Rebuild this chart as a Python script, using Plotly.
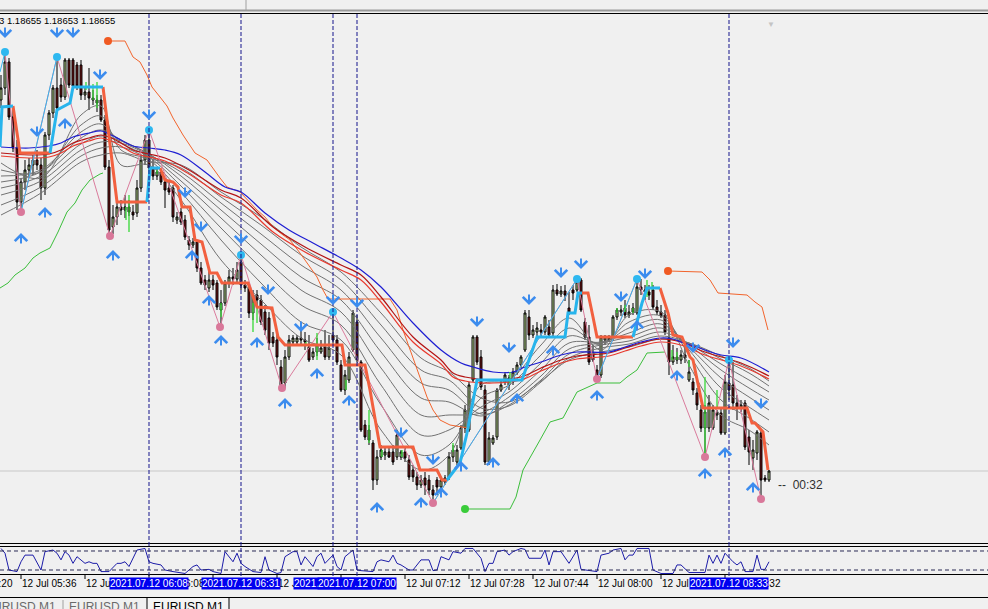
import plotly.graph_objects as go

W, H = 988, 609
BG = "#F0F0F0"

# ---------------- DATA ----------------
# one M1 bar per minute, bar index 0 = 12 Jul 05:31
bars = list(range(193))

open_ = [
1.18900, 1.18912, 1.18938, 1.18883, 1.18852, 1.18798, 1.18818, 1.18830, 1.18835, 1.18840,
1.18835, 1.18812, 1.18865, 1.18887, 1.18912, 1.18915, 1.18903, 1.18940, 1.18940, 1.18935,
1.18935, 1.18905, 1.18908, 1.18902, 1.18900, 1.18900, 1.18880, 1.18833, 1.18773, 1.18783,
1.18793, 1.18790, 1.18793, 1.18788, 1.18787, 1.18812, 1.18840, 1.18860, 1.18832, 1.18824,
1.18828, 1.18818, 1.18812, 1.18812, 1.18780, 1.18788, 1.18780, 1.18760, 1.18755, 1.18758,
1.18732, 1.18720, 1.18712, 1.18720, 1.18717, 1.18690, 1.18697, 1.18717, 1.18723, 1.18721,
1.18738, 1.18715, 1.18712, 1.18687, 1.18705, 1.18700, 1.18688, 1.18682, 1.18663, 1.18660,
1.18633, 1.18617, 1.18643, 1.18658, 1.18658, 1.18662, 1.18660, 1.18653, 1.18643, 1.18648,
1.18648, 1.18653, 1.18643, 1.18665, 1.18660, 1.18635, 1.18610, 1.18620, 1.18650, 1.18678,
1.18638, 1.18575, 1.18570, 1.18557, 1.18520, 1.18543, 1.18545, 1.18548, 1.18548, 1.18543,
1.18543, 1.18548, 1.18540, 1.18530, 1.18523, 1.18515, 1.18522, 1.18520, 1.18510, 1.18520,
1.18513, 1.18518, 1.18523, 1.18543, 1.18538, 1.18552, 1.18572, 1.18570, 1.18620, 1.18663,
1.18643, 1.18610, 1.18538, 1.18557, 1.18563, 1.18610, 1.18618, 1.18615, 1.18618, 1.18627,
1.18635, 1.18650, 1.18683, 1.18665, 1.18668, 1.18670, 1.18668, 1.18673, 1.18667, 1.18710,
1.18706, 1.18709, 1.18692, 1.18710, 1.18710, 1.18720, 1.18678, 1.18663, 1.18647, 1.18630,
1.18625, 1.18660, 1.18660, 1.18663, 1.18683, 1.18688, 1.18692, 1.18685, 1.18692, 1.18687,
1.18713, 1.18710, 1.18708, 1.18710, 1.18693, 1.18688, 1.18685, 1.18662, 1.18638, 1.18643,
1.18640, 1.18645, 1.18620, 1.18618, 1.18607, 1.18590, 1.18572, 1.18572, 1.18572, 1.18585,
1.18587, 1.18567, 1.18617, 1.18615, 1.18597, 1.18592, 1.18597, 1.18563, 1.18542, 1.18547,
1.18567, 1.18522, 1.18520]

high = [
1.18925, 1.18948, 1.18942, 1.18890, 1.18860, 1.18822, 1.18840, 1.18842, 1.18845, 1.18850,
1.18842, 1.18868, 1.18890, 1.18915, 1.18942, 1.18922, 1.18942, 1.18942, 1.18942, 1.18938,
1.18940, 1.18912, 1.18932, 1.18910, 1.18905, 1.18905, 1.18885, 1.18840, 1.18795, 1.18800,
1.18800, 1.18805, 1.18800, 1.18795, 1.18820, 1.18845, 1.18865, 1.18872, 1.18840, 1.18832,
1.18830, 1.18822, 1.18818, 1.18815, 1.18788, 1.18792, 1.18785, 1.18764, 1.18762, 1.18760,
1.18738, 1.18725, 1.18730, 1.18725, 1.18720, 1.18710, 1.18720, 1.18730, 1.18732, 1.18738,
1.18745, 1.18720, 1.18715, 1.18710, 1.18710, 1.18705, 1.18695, 1.18688, 1.18668, 1.18665,
1.18640, 1.18650, 1.18665, 1.18665, 1.18665, 1.18670, 1.18668, 1.18665, 1.18652, 1.18662,
1.18660, 1.18670, 1.18665, 1.18688, 1.18665, 1.18640, 1.18630, 1.18648, 1.18690, 1.18685,
1.18640, 1.18580, 1.18575, 1.18560, 1.18550, 1.18555, 1.18552, 1.18552, 1.18555, 1.18570,
1.18550, 1.18552, 1.18545, 1.18535, 1.18528, 1.18525, 1.18528, 1.18525, 1.18515, 1.18523,
1.18522, 1.18525, 1.18548, 1.18555, 1.18555, 1.18575, 1.18595, 1.18618, 1.18665, 1.18665,
1.18650, 1.18615, 1.18568, 1.18565, 1.18612, 1.18620, 1.18628, 1.18625, 1.18632, 1.18638,
1.18645, 1.18690, 1.18690, 1.18675, 1.18678, 1.18676, 1.18685, 1.18680, 1.18715, 1.18716,
1.18714, 1.18715, 1.18708, 1.18715, 1.18721, 1.18722, 1.18682, 1.18675, 1.18655, 1.18635,
1.18665, 1.18665, 1.18665, 1.18685, 1.18692, 1.18695, 1.18700, 1.18695, 1.18697, 1.18720,
1.18721, 1.18715, 1.18715, 1.18715, 1.18700, 1.18695, 1.18690, 1.18680, 1.18655, 1.18652,
1.18650, 1.18655, 1.18640, 1.18622, 1.18612, 1.18595, 1.18595, 1.18605, 1.18595, 1.18590,
1.18592, 1.18625, 1.18640, 1.18638, 1.18605, 1.18600, 1.18600, 1.18570, 1.18560, 1.18570,
1.18570, 1.18525, 1.18530]

low = [
1.18892, 1.18905, 1.18880, 1.18848, 1.18790, 1.18788, 1.18810, 1.18822, 1.18825, 1.18830,
1.18800, 1.18805, 1.18860, 1.18882, 1.18888, 1.18898, 1.18900, 1.18912, 1.18910, 1.18910,
1.18900, 1.18900, 1.18890, 1.18895, 1.18888, 1.18878, 1.18830, 1.18764, 1.18766, 1.18775,
1.18785, 1.18782, 1.18784, 1.18780, 1.18783, 1.18808, 1.18835, 1.18825, 1.18820, 1.18820,
1.18815, 1.18792, 1.18805, 1.18778, 1.18776, 1.18775, 1.18760, 1.18750, 1.18752, 1.18728,
1.18715, 1.18710, 1.18708, 1.18710, 1.18690, 1.18673, 1.18694, 1.18712, 1.18715, 1.18718,
1.18710, 1.18708, 1.18682, 1.18680, 1.18695, 1.18675, 1.18665, 1.18650, 1.18653, 1.18635,
1.18612, 1.18612, 1.18640, 1.18655, 1.18655, 1.18655, 1.18650, 1.18638, 1.18640, 1.18644,
1.18646, 1.18640, 1.18640, 1.18655, 1.18635, 1.18608, 1.18605, 1.18617, 1.18648, 1.18638,
1.18568, 1.18560, 1.18555, 1.18510, 1.18515, 1.18540, 1.18540, 1.18542, 1.18535, 1.18540,
1.18540, 1.18538, 1.18520, 1.18518, 1.18510, 1.18512, 1.18505, 1.18505, 1.18497, 1.18505,
1.18510, 1.18515, 1.18520, 1.18538, 1.18535, 1.18550, 1.18567, 1.18568, 1.18618, 1.18635,
1.18610, 1.18535, 1.18535, 1.18555, 1.18560, 1.18608, 1.18615, 1.18610, 1.18615, 1.18625,
1.18632, 1.18648, 1.18660, 1.18662, 1.18664, 1.18663, 1.18665, 1.18662, 1.18664, 1.18704,
1.18703, 1.18699, 1.18685, 1.18700, 1.18708, 1.18688, 1.18660, 1.18635, 1.18638, 1.18620,
1.18622, 1.18655, 1.18658, 1.18660, 1.18680, 1.18684, 1.18682, 1.18682, 1.18685, 1.18685,
1.18705, 1.18700, 1.18700, 1.18690, 1.18685, 1.18682, 1.18665, 1.18625, 1.18635, 1.18636,
1.18636, 1.18637, 1.18618, 1.18605, 1.18590, 1.18568, 1.18543, 1.18568, 1.18570, 1.18580,
1.18565, 1.18565, 1.18600, 1.18590, 1.18580, 1.18588, 1.18550, 1.18535, 1.18530, 1.18540,
1.18501, 1.18518, 1.18518]

close = [
1.18912, 1.18938, 1.18883, 1.18852, 1.18798, 1.18818, 1.18830, 1.18835, 1.18840, 1.18835,
1.18812, 1.18865, 1.18887, 1.18912, 1.18892, 1.18903, 1.18940, 1.18915, 1.18914, 1.18914,
1.18905, 1.18908, 1.18902, 1.18900, 1.18897, 1.18880, 1.18833, 1.18770, 1.18783, 1.18793,
1.18790, 1.18793, 1.18788, 1.18785, 1.18812, 1.18840, 1.18860, 1.18832, 1.18824, 1.18828,
1.18818, 1.18810, 1.18808, 1.18783, 1.18783, 1.18778, 1.18763, 1.18755, 1.18758, 1.18732,
1.18717, 1.18715, 1.18720, 1.18715, 1.18693, 1.18697, 1.18717, 1.18723, 1.18721, 1.18730,
1.18715, 1.18712, 1.18687, 1.18705, 1.18700, 1.18678, 1.18670, 1.18657, 1.18657, 1.18643,
1.18615, 1.18643, 1.18660, 1.18662, 1.18662, 1.18660, 1.18658, 1.18640, 1.18648, 1.18655,
1.18652, 1.18643, 1.18652, 1.18660, 1.18638, 1.18610, 1.18625, 1.18643, 1.18687, 1.18640,
1.18570, 1.18563, 1.18560, 1.18520, 1.18543, 1.18550, 1.18548, 1.18543, 1.18538, 1.18565,
1.18548, 1.18542, 1.18523, 1.18523, 1.18515, 1.18520, 1.18515, 1.18510, 1.18505, 1.18513,
1.18520, 1.18522, 1.18543, 1.18550, 1.18550, 1.18572, 1.18590, 1.18615, 1.18663, 1.18638,
1.18613, 1.18538, 1.18562, 1.18562, 1.18610, 1.18615, 1.18625, 1.18622, 1.18628, 1.18635,
1.18643, 1.18687, 1.18665, 1.18670, 1.18672, 1.18668, 1.18683, 1.18665, 1.18710, 1.18706,
1.18709, 1.18705, 1.18688, 1.18707, 1.18718, 1.18690, 1.18663, 1.18638, 1.18640, 1.18622,
1.18663, 1.18663, 1.18662, 1.18683, 1.18690, 1.18690, 1.18685, 1.18688, 1.18688, 1.18713,
1.18710, 1.18708, 1.18705, 1.18693, 1.18688, 1.18684, 1.18668, 1.18638, 1.18643, 1.18640,
1.18645, 1.18642, 1.18628, 1.18610, 1.18595, 1.18572, 1.18588, 1.18597, 1.18590, 1.18587,
1.18567, 1.18618, 1.18610, 1.18597, 1.18592, 1.18595, 1.18553, 1.18548, 1.18550, 1.18568,
1.18520, 1.18520, 1.18529]

# slow moving averages
blue_ma_x = [0, 7, 12, 15, 18, 22, 25, 27, 30, 33, 37, 41, 45, 51, 56, 60, 66, 72, 78, 85,
             90, 95, 103, 110, 115, 118, 123, 128, 131, 135, 140, 144, 152, 156, 160, 165, 168, 170, 174, 176,
             180, 185, 192]
blue_ma = [1.18853, 1.18852, 1.18854, 1.18857, 1.18863, 1.18867, 1.18869, 1.18866, 1.18860, 1.18854,
           1.18852, 1.18850, 1.18845, 1.18828, 1.18813, 1.18808, 1.18787, 1.18770, 1.18757, 1.18742,
           1.18730, 1.18713, 1.18677, 1.18650, 1.18637, 1.18633, 1.18628, 1.18628, 1.18633, 1.18638,
           1.18645, 1.18648, 1.18648, 1.18653, 1.18658, 1.18662, 1.18661, 1.18658, 1.18653, 1.18650,
           1.18645, 1.18642, 1.18628]
red_ma_x = [0, 7, 12, 15, 18, 22, 25, 27, 30, 33, 37, 41, 47, 55, 60, 68, 76, 85, 90, 95,
            103, 110, 113, 116, 123, 130, 135, 140, 144, 152, 156, 160, 165, 170, 176, 185, 192]
red_ma_1 = [1.18847, 1.18845, 1.18846, 1.18850, 1.18857, 1.18862, 1.18865, 1.18863, 1.18857, 1.18850,
            1.18846, 1.18842, 1.18830, 1.18810, 1.18802, 1.18773, 1.18753, 1.18735, 1.18725, 1.18703,
            1.18663, 1.18640, 1.18627, 1.18623, 1.18620, 1.18623, 1.18632, 1.18640, 1.18644, 1.18647,
            1.18652, 1.18657, 1.18661, 1.18658, 1.18648, 1.18637, 1.18624]
red_ma_2 = [1.18844, 1.18842, 1.18843, 1.18847, 1.18854, 1.18859, 1.18862, 1.18860, 1.18854, 1.18847,
            1.18843, 1.18839, 1.18826, 1.18805, 1.18797, 1.18768, 1.18748, 1.18730, 1.18720, 1.18698,
            1.18658, 1.18636, 1.18623, 1.18619, 1.18617, 1.18620, 1.18629, 1.18637, 1.18641, 1.18644,
            1.18649, 1.18654, 1.18658, 1.18655, 1.18645, 1.18634, 1.18621]

# fan of grey moving averages (fast -> slow)
gray_x = [0, 10, 20, 25, 30, 37, 45, 55, 65, 75, 85, 95, 105, 112, 120, 127, 135, 142, 150, 157,
          165, 172, 180, 187, 192]
gray_1 = [1.18837, 1.18822, 1.18885, 1.18894, 1.18835, 1.18835, 1.18800, 1.18740, 1.18700, 1.18662,
          1.18645, 1.18570, 1.18530, 1.18545, 1.18615, 1.18620, 1.18655, 1.18682, 1.18650, 1.18685,
          1.18688, 1.18635, 1.18585, 1.18570, 1.18555]
gray_2 = [1.18830, 1.18828, 1.18875, 1.18884, 1.18850, 1.18840, 1.18808, 1.18760, 1.18717, 1.18678,
          1.18660, 1.18595, 1.18545, 1.18555, 1.18602, 1.18615, 1.18645, 1.18672, 1.18655, 1.18678,
          1.18684, 1.18645, 1.18600, 1.18582, 1.18568]
gray_3 = [1.18824, 1.18830, 1.18868, 1.18876, 1.18857, 1.18843, 1.18814, 1.18772, 1.18732, 1.18695,
          1.18675, 1.18615, 1.18565, 1.18570, 1.18593, 1.18608, 1.18637, 1.18664, 1.18657, 1.18672,
          1.18680, 1.18650, 1.18612, 1.18593, 1.18580]
gray_4 = [1.18818, 1.18828, 1.18862, 1.18870, 1.18860, 1.18845, 1.18819, 1.18782, 1.18745, 1.18710,
          1.18688, 1.18632, 1.18585, 1.18585, 1.18587, 1.18603, 1.18630, 1.18657, 1.18658, 1.18667,
          1.18676, 1.18653, 1.18622, 1.18603, 1.18590]
gray_5 = [1.18812, 1.18824, 1.18856, 1.18864, 1.18859, 1.18846, 1.18824, 1.18790, 1.18756, 1.18723,
          1.18700, 1.18648, 1.18602, 1.18598, 1.18584, 1.18598, 1.18624, 1.18651, 1.18657, 1.18663,
          1.18672, 1.18655, 1.18630, 1.18612, 1.18600]
gray_6 = [1.18805, 1.18819, 1.18850, 1.18858, 1.18857, 1.18845, 1.18828, 1.18797, 1.18766, 1.18735,
          1.18710, 1.18662, 1.18617, 1.18610, 1.18586, 1.18595, 1.18620, 1.18646, 1.18655, 1.18659,
          1.18668, 1.18656, 1.18636, 1.18620, 1.18608]
gray_7 = [1.18795, 1.18813, 1.18844, 1.18852, 1.18853, 1.18842, 1.18832, 1.18803, 1.18775, 1.18745,
          1.18720, 1.18675, 1.18630, 1.18620, 1.18592, 1.18594, 1.18618, 1.18642, 1.18652, 1.18656,
          1.18664, 1.18657, 1.18641, 1.18627, 1.18614]
gray_8 = [1.18785, 1.18807, 1.18838, 1.18845, 1.18847, 1.18838, 1.18835, 1.18808, 1.18783, 1.18753,
          1.18728, 1.18687, 1.18642, 1.18628, 1.18602, 1.18598, 1.18619, 1.18640, 1.18648, 1.18653,
          1.18661, 1.18657, 1.18644, 1.18632, 1.18619]

# trailing stop (thick) : above price (down) and below price (up)
trail_down_x = [3, 4.75, 12.25, None, 25.5, 29, 36.5, None,
                39.75, 41, 43, 44.25, 45.25, 47.25, 48.5, 50.25, 52.25, 54, 55.25, 61.75, 64, 67.75, 69.25, 71,
                85.25, 86, 91, 92.25, 94.75, 103, 104.75, 109, 110.25, 111.5, None,
                145.25, 146.75, 148, 149, 158, None,
                164.75, 166.75, 168, 170.25, 172.25, 173, 175.5, 186.5, 187.75, 188.5, 190.5, 191.75]
trail_down_p = [1.18894, 1.18847, 1.18847, None, 1.18913, 1.18798, 1.18798, None,
                1.18832, 1.18820, 1.18818, 1.18813, 1.18793, 1.18793, 1.18760, 1.18758, 1.18727, 1.18727, 1.18717,
                1.18717, 1.18693, 1.18692, 1.18663, 1.18655,
                1.18655, 1.18635, 1.18635, 1.18610, 1.18553, 1.18553, 1.18530, 1.18530, 1.18520, 1.18520, None,
                1.18707, 1.18707, 1.18683, 1.18663, 1.18663, None,
                1.18712, 1.18687, 1.18665, 1.18663, 1.18643, 1.18640, 1.18592, 1.18592, 1.18577, 1.18577,
                1.18568, 1.18530]
trail_up_x = [-0.25, 0.25, 3, None, 12.25, 14, 17.25, 18, 25.5, None, 36.5, 37.25, 39.75, None,
              111.5, 114.75, 116.5, 119, 130.25, 134, 141, 141.75, 143.5, 144.25, 145.25, None,
              158, 160.25, 161.5, 164.75]
trail_up_p = [1.18853, 1.18893, 1.18894, None, 1.18847, 1.18890, 1.18897, 1.18913, 1.18913, None,
              1.18798, 1.18832, 1.18832, None,
              1.18520, 1.18537, 1.18567, 1.18620, 1.18620, 1.18663, 1.18663, 1.18687, 1.18687, 1.18707,
              1.18707, None,
              1.18663, 1.18697, 1.18712, 1.18712]

# thin orange / green channel lines
orange_1_x = [26.75, 31, 33, 34.75, 36.5, 37.75, 39.75, 41.5, 43, 45.5, 48.5, 51.5, 54.75, 56.5, 59.75,
              62.25, 64, 66, 68, 70.5, 72.25, 74.75, 77.25, 79, 80.5, 81.75, 97.25, 99, 100.5, 102.25,
              104.75, 106.5, 108, 109.75, 112.25, 116.75]
orange_1_p = [1.18959, 1.18959, 1.18943, 1.18938, 1.18925, 1.18913, 1.18903, 1.18894, 1.18882, 1.18865,
              1.18847, 1.18840, 1.18822, 1.18813, 1.18808, 1.18797, 1.18790, 1.18783, 1.18773, 1.18765,
              1.18760, 1.18747, 1.18733, 1.18723, 1.18710, 1.18701, 1.18701, 1.18690, 1.18670, 1.18650,
              1.18623, 1.18603, 1.18590, 1.18580, 1.18575, 1.18572]
orange_2_x = [166.75, 175.25, 177.25, 179.25, 186.5, 188.5, 190.25, 191.75]
orange_2_p = [1.18729, 1.18728, 1.18720, 1.18707, 1.18705, 1.18698, 1.18693, 1.18670]
green_1_x = [-0.25, 1.75, 3.5, 6, 8, 9.75, 12.25, 14.25, 16.5, 18.5, 20.25, 22.25, 24.75, 25.5]
green_1_p = [1.18712, 1.18717, 1.18725, 1.18732, 1.18742, 1.18747, 1.18752, 1.18768, 1.18788, 1.18797,
             1.18810, 1.18820, 1.18826, 1.18827]
green_2_x = [116, 127.25, 128.75, 130.5, 134.75, 137.25, 140.5, 144, 149, 154.75, 156.5, 159, 161.5, 166]
green_2_p = [1.18491, 1.18491, 1.18503, 1.18530, 1.18560, 1.18578, 1.18582, 1.18608, 1.18617, 1.18617,
             1.18623, 1.18630, 1.18647, 1.18648]

# zigzag swing points
zz_x = [-0.25, 1, 5, 14, 27.25, 37, 54.75, 60, 70.25, 83, 108, 144, 149, 159, 176, 182, 190]
zz_p = [1.18928, 1.18948, 1.18788, 1.18943, 1.18764, 1.18870, 1.18673, 1.18745, 1.18612, 1.18688,
        1.18497, 1.18721, 1.18621, 1.18721, 1.18543, 1.18640, 1.18501]
zz_cyan_legs = [0, 2, 10, 12]

# signal arrows
down_arrow_x = [1, 14, 18, 24.75, 9, 37, 46, 50, 60, 66.75, 75, 83, 89, 100, 108, 119, 127, 132, 140, 145,
                155, 161, 173, 183, 190]
down_arrow_p = [1.18967, 1.18967, 1.18967, 1.18925, 1.18868, 1.18885, 1.18807, 1.18773, 1.18761, 1.18710,
                1.18673, 1.18700, 1.18697, 1.18567, 1.18540, 1.18678, 1.18652, 1.18700, 1.18727, 1.18736,
                1.18703, 1.18726, 1.18652, 1.18657, 1.18596]
up_arrow_x = [5, 11, 16, 28, 47.75, 52, 55, 64, 71, 79, 87, 94, 105, 110, 115, 123, 129, 138, 149, 159,
              169, 176, 181, 188]
up_arrow_p = [1.18762, 1.18788, 1.18877, 1.18745, 1.18745, 1.18700, 1.18660, 1.18658, 1.18597, 1.18627,
              1.18600, 1.18493, 1.18498, 1.18508, 1.18534, 1.18538, 1.18602, 1.18650, 1.18605, 1.18675,
              1.18625, 1.18527, 1.18548, 1.18513]

# small green indicator bars
gbar_x = [21.25, 23, 24, 31.25, 32, 39, 55, 63, 64, 76.25, 79, 86.25, 92, 95.25, 100.25, 113, 127.25,
          154, 156, 158, 161.5, 162.75, 167.75, 169, 172, 176, 179]
gbar_top = [1.18918, 1.18916, 1.18918, 1.18793, 1.18805, 1.18830, 1.18697, 1.18697, 1.18693, 1.18658,
            1.18667, 1.18620, 1.18590, 1.18550, 1.18550, 1.18557, 1.18628, 1.18692, 1.18695, 1.18692,
            1.18720, 1.18718, 1.18650, 1.18648, 1.18640, 1.18623, 1.18610]
gbar_bot = [1.18910, 1.18900, 1.18892, 1.18780, 1.18768, 1.18826, 1.18683, 1.18668, 1.18677, 1.18655,
            1.18640, 1.18610, 1.18557, 1.18543, 1.18543, 1.18548, 1.18617, 1.18687, 1.18688, 1.18687,
            1.18703, 1.18710, 1.18640, 1.18640, 1.18633, 1.18543, 1.18593]

# oscillator sub-window
osc_x = [0, 1, 2, 4, 5, 6, 8, 10, 11, 13, 14, 15, 16, 17, 18, 19, 21, 22, 23, 24,
         25, 27, 29, 30, 31, 32, 34, 36, 37, 38, 40, 41, 43, 46, 48, 49, 50, 52, 53, 55,
         56, 58, 59, 60, 61, 63, 65, 66, 67, 69, 70, 71, 73, 74, 75, 76, 78, 79, 80, 81,
         83, 84, 85, 86, 88, 89, 90, 93, 94, 95, 97, 98, 99, 100, 102, 103, 105, 107, 108, 109,
         110, 112, 113, 115, 116, 118, 120, 121, 122, 123, 124, 126, 127, 128, 130, 131, 132, 135, 136, 137,
         138, 140, 142, 144, 145, 147, 149, 150, 152, 153, 155, 156, 157, 158, 159, 162, 163, 165, 168, 169,
         170, 172, 176, 177, 178, 179, 180, 181, 183, 184, 185, 186, 188, 189, 190, 191, 192]
osc_v = [88, 73, 20, 15, 46, 67, 67, 20, 78, 83, 73, 52, 78, 67, 41, 62, 41, 46, 41, 41,
         15, 15, 41, 41, 46, 31, 83, 88, 46, 41, 36, 20, 15, 9, 31, 36, 20, 22, 15, 9,
         78, 46, 73, 41, 31, 15, 12, 62, 20, 9, 12, 62, 78, 78, 36, 62, 31, 62, 73, 41,
         67, 31, 20, 62, 83, 20, 18, 15, 46, 52, 46, 67, 41, 36, 20, 20, 52, 52, 18, 20,
         62, 52, 78, 73, 88, 88, 57, 15, 41, 41, 78, 83, 67, 78, 88, 85, 57, 57, 83, 36,
         78, 78, 41, 83, 22, 18, 15, 67, 73, 83, 88, 52, 67, 67, 88, 88, 20, 9, 9, 36,
         36, 12, 12, 67, 41, 67, 41, 73, 46, 36, 46, 15, 15, 67, 22, 22, 46]
osc_levels = [80, 20]

# time axis
tick_x = [5, 21, 37, 53, 69, 85, 101, 117, 133, 149, 165, 181]
tick_text = ["12 Jul 05:36", "12 Jul 05:52", "12 Jul 06:08", "12 Jul 06:24", "12 Jul 06:40",
             "12 Jul 06:56", "12 Jul 07:12", "12 Jul 07:28", "12 Jul 07:44", "12 Jul 08:00",
             "12 Jul 08:16", "12 Jul 08:32"]
vline_x = [37, 60, 83, 89, 182]
vline_text = ["2021.07.12 06:08", "2021.07.12 06:31", "2021.07.12 06:54", "2021.07.12 07:00",
              "2021.07.12 08:33"]
header_text = "3 1.18655 1.18653 1.18655"
timer_text = "--  00:32"
tab_names = ["EURUSD M1", "EURUSD M1", "EURUSD M1"]

# ---------------- STYLE ----------------
GRAY = "#727272"
BLUE = "#1E1ED2"
RED1 = "#B41414"
RED2 = "#E83A2E"
TRAIL_RED = "#F2603F"
TRAIL_CYAN = "#27B4EC"
ORANGE = "#F2642C"
GREEN = "#3BBE3B"
PINK = "#DA7B9C"
ARROW = "#3C8CEE"
X_RANGE = [-0.25, 246.75]


def ppy(y):
    return 1 - y / H


def ppx(x):
    return x / W


fig = go.Figure()


def line(x, y, color, width=1, shape="linear", axis=("x", "y"), dash=None):
    fig.add_trace(go.Scatter(x=x, y=y, mode="lines", connectgaps=False,
                             line=dict(color=color, width=width, shape=shape, dash=dash),
                             hoverinfo="skip", showlegend=False, xaxis=axis[0], yaxis=axis[1]))


for g in [gray_8, gray_7, gray_6, gray_5, gray_4, gray_3, gray_2, gray_1]:
    line(gray_x, g, GRAY, 1, "spline")
line(orange_1_x, orange_1_p, ORANGE, 1)
line(orange_2_x, orange_2_p, ORANGE, 1)
line(green_1_x, green_1_p, GREEN, 1)
line(green_2_x, green_2_p, GREEN, 1)
line(red_ma_x, red_ma_2, RED2, 1.2, "spline")
line(red_ma_x, red_ma_1, RED1, 1.2, "spline")
line(blue_ma_x, blue_ma, BLUE, 1.2, "spline")

# zigzag
line(zz_x[1:], zz_p[1:], PINK, 1)
cx, cy = [], []
for i in zz_cyan_legs:
    cx += [zz_x[i], zz_x[i + 1], None]
    cy += [zz_p[i], zz_p[i + 1], None]
line(cx, cy, "#36B6EE", 1)

# green indicator bars
gx, gy = [], []
for xb, t, b in zip(gbar_x, gbar_top, gbar_bot):
    gx += [xb, xb, None]
    gy += [t, b, None]
line(gx, gy, "#36D836", 1.3)

fig.add_trace(go.Candlestick(
    x=bars, open=open_, high=high, low=low, close=close,
    increasing=dict(line=dict(color="#000000", width=1), fillcolor="#C8EA9C"),
    decreasing=dict(line=dict(color="#000000", width=1), fillcolor="#7C1212"),
    whiskerwidth=0, hoverinfo="skip", showlegend=False, xaxis="x", yaxis="y"))

line(trail_down_x, trail_down_p, TRAIL_RED, 3)
line(trail_up_x, trail_up_p, TRAIL_CYAN, 3)

# swing dots
tops_x = [zz_x[i] for i in range(1, len(zz_x), 2)]
tops_p = [zz_p[i] for i in range(1, len(zz_p), 2)]
bots_x = [zz_x[i] for i in range(2, len(zz_x), 2)]
bots_p = [zz_p[i] for i in range(2, len(zz_p), 2)]
fig.add_trace(go.Scatter(x=tops_x, y=tops_p, mode="markers", marker=dict(color="#2EB8F0", size=8),
                         hoverinfo="skip", showlegend=False))
fig.add_trace(go.Scatter(x=bots_x, y=bots_p, mode="markers", marker=dict(color="#D9789A", size=8),
                         hoverinfo="skip", showlegend=False))
fig.add_trace(go.Scatter(x=[orange_1_x[0], orange_2_x[0]], y=[orange_1_p[0], orange_2_p[0]], mode="markers",
                         marker=dict(color="#F05A22", size=8), hoverinfo="skip", showlegend=False))
fig.add_trace(go.Scatter(x=[green_2_x[0]], y=[green_2_p[0]], mode="markers",
                         marker=dict(color="#3ACC3A", size=8), hoverinfo="skip", showlegend=False))

# oscillator
line(osc_x, osc_v, "#1C1CA8", 1, axis=("x2", "y2"))

shapes = []
annotations = []

# arrows
for xb, p in zip(down_arrow_x, down_arrow_p):
    annotations.append(dict(x=xb, y=p, xref="x", yref="y", text="", showarrow=True, arrowhead=4,
                            arrowsize=1.2, arrowwidth=2, arrowcolor=ARROW, ax=0, ay=-12, yshift=-5,
                            standoff=0))
for xb, p in zip(up_arrow_x, up_arrow_p):
    annotations.append(dict(x=xb, y=p, xref="x", yref="y", text="", showarrow=True, arrowhead=4,
                            arrowsize=1.2, arrowwidth=2, arrowcolor=ARROW, ax=0, ay=12, yshift=5,
                            standoff=0))

# frame lines
for ypx, col, w in [(10.5, "#9A9A9A", 2), (13.5, "#000000", 1), (543.5, "#000000", 1),
                    (546.5, "#000000", 1), (574.5, "#000000", 1), (597.5, "#000000", 1)]:
    shapes.append(dict(type="line", xref="paper", yref="paper", x0=0, x1=1, y0=ppy(ypx), y1=ppy(ypx),
                       line=dict(color=col, width=w)))
shapes.append(dict(type="line", xref="paper", yref="paper", x0=ppx(246), x1=ppx(246), y0=ppy(0), y1=ppy(10),
                   line=dict(color="#A0A0A0", width=1)))

# bid line at last close
shapes.append(dict(type="line", xref="paper", yref="y", x0=0, x1=1, y0=close[-1], y1=close[-1],
                   line=dict(color="#C8C8C8", width=1), layer="below"))
# oscillator levels
for lv in osc_levels:
    shapes.append(dict(type="line", xref="paper", yref="y2", x0=0, x1=1, y0=lv, y1=lv,
                       line=dict(color="#2A2A55", width=1, dash="4px,3px")))
# vertical dashed period separators
for xb in vline_x:
    shapes.append(dict(type="line", xref="x", yref="paper", x0=xb, x1=xb, y0=ppy(576), y1=ppy(14),
                       line=dict(color="#14148C", width=1, dash="4px,2px")))
# time ticks
for xb in tick_x:
    shapes.append(dict(type="line", xref="x", yref="paper", x0=xb, x1=xb, y0=ppy(575), y1=ppy(579),
                       line=dict(color="#000000", width=1)))

LBL = dict(family="Liberation Sans, Arial, sans-serif", size=10, color="#000000")
annotations.append(dict(x=ppx(-43), y=ppy(583), xref="paper", yref="paper", text="12 Jul 05:20",
                        showarrow=False, xanchor="left", yanchor="middle", font=LBL, borderpad=0))
for xb, t in zip(tick_x, tick_text):
    annotations.append(dict(x=xb, y=ppy(583), xref="x", yref="paper", text=t, showarrow=False,
                            xanchor="left", yanchor="middle", font=LBL, borderpad=0))
for xb, t in zip(vline_x, vline_text):
    annotations.append(dict(x=xb, y=ppy(583), xref="x", yref="paper", text=t, showarrow=False,
                            xanchor="center", yanchor="middle", bgcolor="#0000F0", borderpad=0,
                            font=dict(family="Liberation Sans, Arial, sans-serif", size=10, color="#FFFFFF")))

annotations.append(dict(x=ppx(-3), y=ppy(21), xref="paper", yref="paper", text=header_text, showarrow=False,
                        xanchor="left", yanchor="middle", font=dict(family="Liberation Sans", size=9.5,
                                                                     color="#000000")))
annotations.append(dict(x=bars[-1], y=ppy(485), xref="x", yref="paper", text=timer_text, showarrow=False,
                        xanchor="left", yanchor="middle", xshift=7,
                        font=dict(family="Liberation Sans", size=12, color="#303030")))
annotations.append(dict(x=ppx(777), y=ppy(16), xref="paper", yref="paper", text="▼", showarrow=False,
                        font=dict(size=8, color="#C4C4C4")))

# bottom tabs
shapes.append(dict(type="line", xref="paper", yref="paper", x0=ppx(63), x1=ppx(63), y0=ppy(600), y1=ppy(609),
                   line=dict(color="#A0A0A0", width=1)))
shapes.append(dict(type="rect", xref="paper", yref="paper", x0=ppx(147), x1=ppx(229), y0=ppy(612), y1=ppy(597.5),
                   line=dict(color="#000000", width=1), fillcolor="#F4F4F4"))
for cxp, name, col in zip([20, 104, 188], tab_names, ["#6A6A6A", "#6A6A6A", "#000000"]):
    annotations.append(dict(x=ppx(cxp), y=ppy(607), xref="paper", yref="paper", text=name, showarrow=False,
                            xanchor="center", yanchor="middle",
                            font=dict(family="Liberation Sans", size=12, color=col)))

fig.update_layout(
    width=W, height=H, autosize=False, margin=dict(l=0, r=0, t=0, b=0),
    paper_bgcolor=BG, plot_bgcolor=BG, showlegend=False,
    xaxis=dict(domain=[0, 1], range=X_RANGE, visible=False, anchor="y", rangeslider=dict(visible=False)),
    yaxis=dict(domain=[ppy(543), ppy(14)], range=[1.18457, 1.18986], visible=False, anchor="x"),
    xaxis2=dict(domain=[0, 1], range=X_RANGE, visible=False, anchor="y2", matches="x"),
    yaxis2=dict(domain=[ppy(574), ppy(547)], range=[7.4, 92.6], visible=False, anchor="x2"),
    shapes=shapes, annotations=annotations,
)

fig.write_html("out.html", config=dict(displayModeBar=False, staticPlot=True))

# remove the default page margin so the figure sits at the window's top-left corner
with open("out.html", "r", encoding="utf-8") as f:
    page = f.read()
page = page.replace("<head>", "<head><style>html,body{margin:0;padding:0;overflow:hidden;background:#F0F0F0}</style>", 1)
with open("out.html", "w", encoding="utf-8") as f:
    f.write(page)
